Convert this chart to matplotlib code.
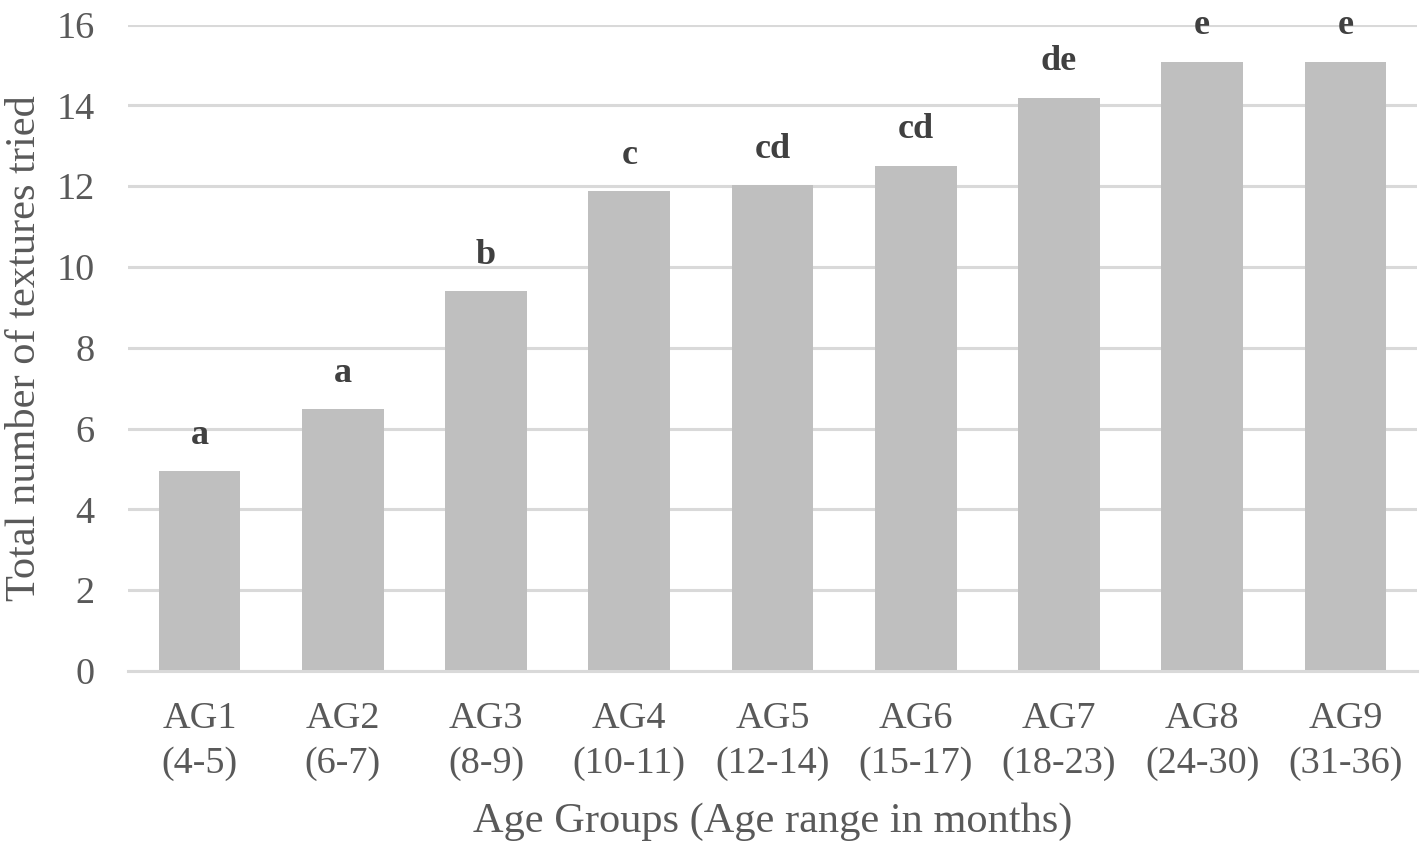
import matplotlib
matplotlib.use('Agg')
import matplotlib.pyplot as plt

groups = ['AG1', 'AG2', 'AG3', 'AG4', 'AG5', 'AG6', 'AG7', 'AG8', 'AG9']
age_ranges = ['(4-5)', '(6-7)', '(8-9)', '(10-11)', '(12-14)', '(15-17)', '(18-23)', '(24-30)', '(31-36)']
textures = [4.95, 6.48, 9.40, 11.87, 12.02, 12.51, 14.19, 15.08, 15.08]
letters = ['a', 'a', 'b', 'c', 'cd', 'cd', 'de', 'e', 'e']

plt.rcParams['font.family'] = ['Liberation Serif', 'DejaVu Serif']
text_grey = '#595959'

fig = plt.figure(figsize=(14.21, 8.46), dpi=100)
ax = fig.add_axes([0.0901, 0.2069, 0.9071, 0.7641])

x = list(range(len(groups)))
ax.bar(x, textures, width=0.57, color='#bfbfbf', zorder=2)

for xi, val, lab in zip(x, textures, letters):
    ax.annotate(lab, (xi, val), xytext=(0, 14), textcoords='offset points',
                ha='center', va='bottom', fontsize=26, fontweight='bold',
                color='#404040', zorder=3)

ax.set_xlim(-0.5, len(groups) - 0.5)
ax.set_ylim(0, 16)
ax.set_yticks(range(0, 17, 2))
ax.set_xticks(x)
ax.set_xticklabels([f'{g}\n{r}' for g, r in zip(groups, age_ranges)],
                   fontsize=27.5, color=text_grey, linespacing=1.38)
ax.tick_params(axis='y', labelsize=27.5, labelcolor=text_grey, length=0, pad=24)
ax.tick_params(axis='x', length=0, pad=22)

ax.yaxis.grid(True, color='#d9d9d9', linewidth=2.2, zorder=0)
ax.set_axisbelow(True)
for side in ['top', 'right', 'left']:
    ax.spines[side].set_visible(False)
ax.spines['bottom'].set_color('#d9d9d9')
ax.spines['bottom'].set_linewidth(2.2)

ax.set_xlabel('Age Groups (Age range in months)', fontsize=30.5, color=text_grey, labelpad=16)
ax.set_ylabel('Total number of textures tried', fontsize=30.5, color=text_grey, labelpad=9)

fig.savefig('out.png', dpi=100)
